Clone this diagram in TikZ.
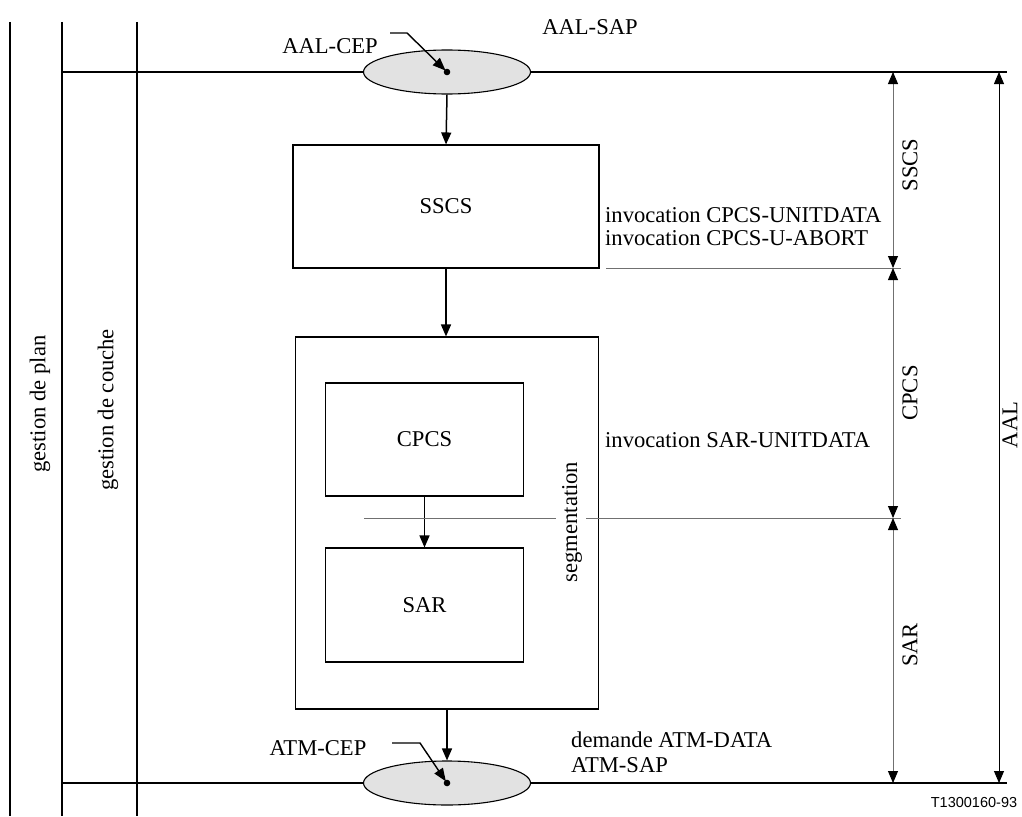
\documentclass[tikz,border=0pt]{standalone}
\usepackage{fontspec}
\setmainfont{Liberation Serif}
\setsansfont{Liberation Sans}
\usetikzlibrary{arrows.meta,positioning,shapes.geometric}
\definecolor{sapfill}{HTML}{E2E2E2}
\definecolor{dimgray}{HTML}{707070}

\begin{document}
\begin{tikzpicture}[x=1pt,y=-1pt,font=\fontsize{22.6}{25}\selectfont,
  blk/.style={draw,line width=1.1pt,inner sep=0pt},
  sap/.style={ellipse,draw,line width=1.1pt,fill=sapfill,minimum width=167pt,minimum height=44pt,inner sep=0pt},
  flow/.style={-{Triangle[length=12pt,width=10pt]},line width=1.5pt},
  lead/.style={-{Triangle[length=13pt,width=10pt]},line width=1.4pt,shorten >=2pt},
  dim/.style={{Triangle[length=12pt,width=10pt,color=black]}-{Triangle[length=12pt,width=10pt,color=black]},line width=0.9pt,draw=dimgray},
  rule/.style={line width=0.9pt,draw=dimgray},
  bar/.style={line width=2pt},
  txt/.style={inner sep=0pt,anchor=base west}]
\useasboundingbox (0,0) rectangle (1022,816);

% management columns
\foreach \x/\n in {10/plan,62/layer,137/inner}{
  \draw[bar] (\x,22) coordinate (\n top) -- (\x,816);
}
\node[rotate=90] (plan) at (40,404) {gestion de plan};
\node[rotate=90] (couche) at (108,410) {gestion de couche};

% service access points
\draw[bar] (62,72) -- (1007,72);
\draw[bar] (62,783) -- (1007,783);
\node[sap] (aalsap) at (447,72) {};
\node[sap] (atmsap) at (447,783) {};
\coordinate (aalcep) at (447,72);
\coordinate (atmcep) at (447,783);
\fill (aalcep) circle (3.3);
\fill (atmcep) circle (3.3);

\node (aalsaplbl) at (590,27) {AAL-SAP};
\node (aalceplbl) at (330,46) {AAL-CEP};
\coordinate (aaltail) at (390,33);
\coordinate (aalbend) at (407,33);
\draw[lead] (aaltail) -- (aalbend) -- (aalcep);
\node (atmceplbl) at (318,748) {ATM-CEP};
\coordinate (atmtail) at (392,743);
\coordinate (atmbend) at (420,743);
\draw[lead] (atmtail) -- (atmbend) -- (atmcep);

% sublayers
\node[blk,minimum width=306pt,minimum height=123pt] (sscs) at (446,206.5) {SSCS};
\node[blk,minimum width=303pt,minimum height=372pt] (cpcsbox) at (447,523) {};
\node[blk,minimum width=198pt,minimum height=113pt] (cpcs) at (424.5,439.5) {CPCS};
\node[blk,minimum width=198pt,minimum height=114pt] (sar) at (424.5,605) {SAR};
\node[rotate=90] (seg) at (572,522) {segmentation};

\draw[flow] (aalsap.south) -- (sscs.north);
\draw[flow] (sscs.south) -- (sscs.south |- cpcsbox.north);
\draw[flow] (cpcs.south) -- (sar.north);
\draw[flow] (cpcsbox.south) -- (atmsap.north);

% primitives
\node[txt] (cpcsunit) at (605,222) {invocation CPCS-UNITDATA};
\node[txt] (cpcsabort) at (605,245) {invocation CPCS-U-ABORT};
\node[txt] (sarunit) at (605,447) {invocation SAR-UNITDATA};
\node[txt] (atmdata) at (571,747) {demande ATM-DATA};
\node[txt] (atmsaplbl) at (571,772) {ATM-SAP};

% layer boundaries
\coordinate (top) at (893,72);
\coordinate (mid1) at (893,268);
\coordinate (mid2) at (893,518);
\coordinate (bot) at (893,783);
\draw[rule] (606,268) -- (901,268);
\draw[rule] (364,518) -- (556,518);
\draw[rule] (586,518) -- (901,518);
\draw[dim] (top) -- (mid1);
\draw[dim] (mid1) -- (mid2);
\draw[dim] (mid2) -- (bot);
\node[rotate=90] (sscslbl) at (910,165) {SSCS};
\node[rotate=90] (cpcslbl) at (910,393) {CPCS};
\node[rotate=90] (sarlbl) at (910,645) {SAR};
\coordinate (aaltop) at (999,72);
\coordinate (aalbot) at (999,783);
\draw[{Triangle[length=12pt,width=10pt]}-{Triangle[length=12pt,width=10pt]},line width=0.9pt] (aaltop) -- (aalbot);
\node[rotate=90,inner sep=1pt] (aallbl) at (1010,425) {AAL};

\node[font=\sffamily\fontsize{14.5}{16}\selectfont] (fig) at (974,802) {T1300160-93};
\end{tikzpicture}
\end{document}
